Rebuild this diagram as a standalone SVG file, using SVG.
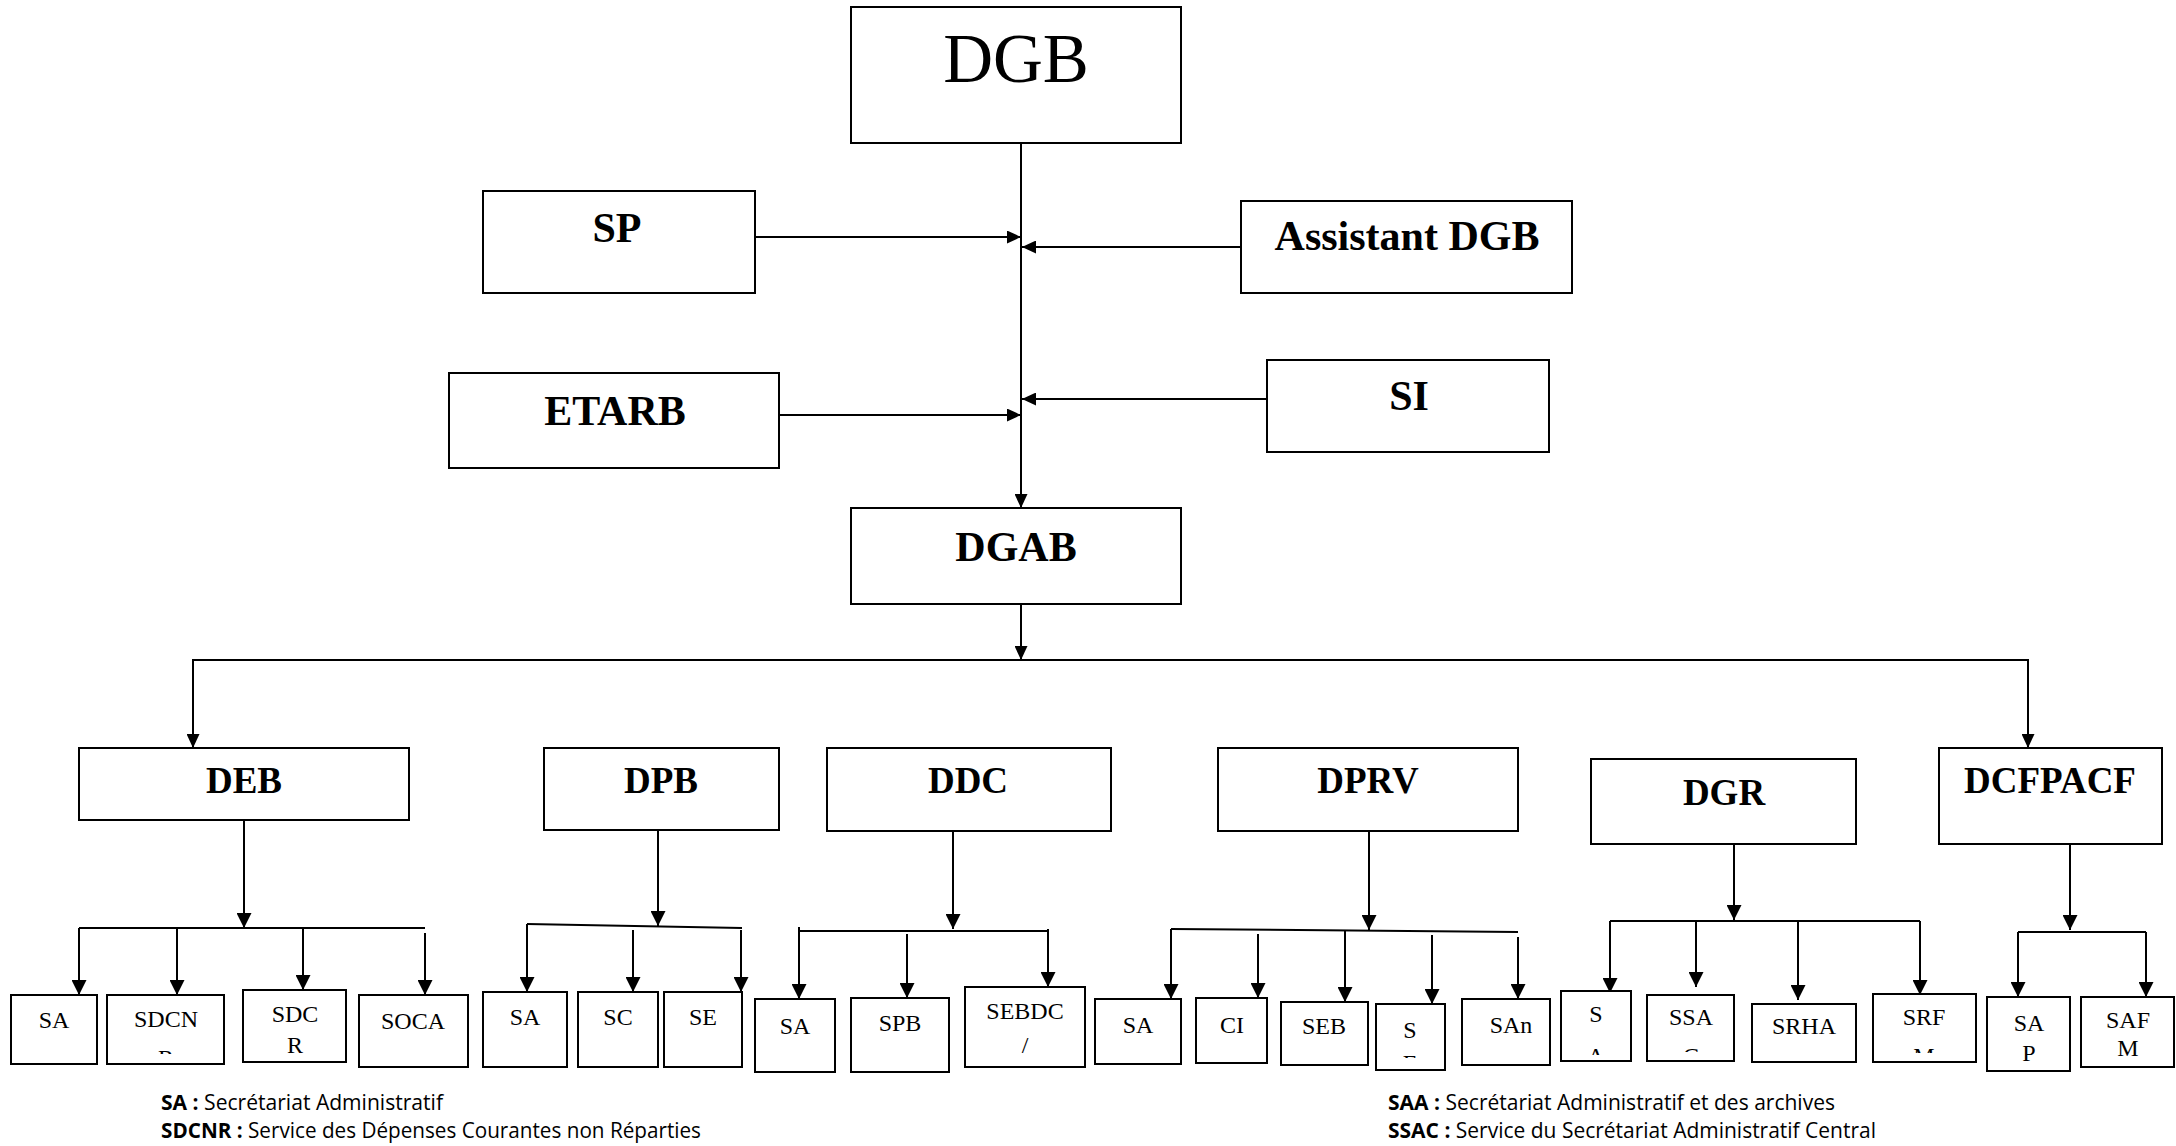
<svg xmlns="http://www.w3.org/2000/svg" width="2176" height="1146" viewBox="0 0 2176 1146">
<style>
.box{fill:#fff;stroke:#000;stroke-width:2}
.big{font-family:"Liberation Serif",serif;font-weight:bold;text-anchor:middle;fill:#000}
.sm{font-family:"Liberation Serif",serif;font-size:24px;text-anchor:middle;fill:#000}
.ln{stroke:#000;stroke-width:2;fill:none}
.leg{font-family:"Open Sans","Liberation Sans",sans-serif;font-size:21px;fill:#000}
</style>
<defs>
<marker id="ah" markerWidth="15" markerHeight="15" refX="15" refY="7.5" orient="auto" markerUnits="userSpaceOnUse"><path d="M0,0 L15,7.5 L0,15 z" fill="#000"/></marker>
<marker id="as" markerWidth="14" markerHeight="13" refX="14" refY="6.5" orient="auto" markerUnits="userSpaceOnUse"><path d="M0,0 L14,6.5 L0,13 z" fill="#000"/></marker>
<clipPath id="c1"><rect x="107" y="995" width="117" height="59"/></clipPath>
<clipPath id="c2"><rect x="1095" y="999" width="86" height="54"/></clipPath>
<clipPath id="c3"><rect x="1376" y="1004" width="69" height="54"/></clipPath>
<clipPath id="c4"><rect x="1561" y="991" width="70" height="64"/></clipPath>
<clipPath id="c5"><rect x="1647" y="995" width="87" height="57"/></clipPath>
<clipPath id="c6"><rect x="1873" y="994" width="103" height="59"/></clipPath>
</defs>

<g id="connectors">
<line class="ln" x1="1021" y1="143" x2="1021" y2="508" marker-end="url(#as)"/>
<line class="ln" x1="755" y1="237" x2="1021" y2="237" marker-end="url(#as)"/>
<line class="ln" x1="1241" y1="247" x2="1022" y2="247" marker-end="url(#as)"/>
<line class="ln" x1="779" y1="415" x2="1021" y2="415" marker-end="url(#as)"/>
<line class="ln" x1="1267" y1="399" x2="1022" y2="399" marker-end="url(#as)"/>
<line class="ln" x1="1021" y1="604" x2="1021" y2="660" marker-end="url(#as)"/>
<polyline class="ln" points="193,748 193,660 2028,660 2028,748"/>
<line class="ln" x1="193" y1="700" x2="193" y2="748" marker-end="url(#as)"/>
<line class="ln" x1="2028" y1="700" x2="2028" y2="748" marker-end="url(#as)"/>

<line class="ln" x1="244" y1="820" x2="244" y2="928" marker-end="url(#ah)"/>
<line class="ln" x1="79" y1="928" x2="425" y2="928"/>
<line class="ln" x1="79" y1="928" x2="79" y2="995" marker-end="url(#ah)"/>
<line class="ln" x1="177" y1="928" x2="177" y2="995" marker-end="url(#ah)"/>
<line class="ln" x1="303" y1="928" x2="303" y2="990" marker-end="url(#ah)"/>
<line class="ln" x1="425" y1="933" x2="425" y2="995" marker-end="url(#ah)"/>

<line class="ln" x1="658" y1="830" x2="658" y2="926" marker-end="url(#ah)"/>
<line class="ln" x1="527" y1="924" x2="742" y2="928"/>
<line class="ln" x1="527" y1="924" x2="527" y2="992" marker-end="url(#ah)"/>
<line class="ln" x1="633" y1="930" x2="633" y2="992" marker-end="url(#ah)"/>
<line class="ln" x1="741" y1="930" x2="741" y2="992" marker-end="url(#ah)"/>

<line class="ln" x1="953" y1="831" x2="953" y2="929" marker-end="url(#ah)"/>
<line class="ln" x1="799" y1="931" x2="1048" y2="931"/>
<line class="ln" x1="799" y1="927" x2="799" y2="999" marker-end="url(#ah)"/>
<line class="ln" x1="907" y1="934" x2="907" y2="998" marker-end="url(#ah)"/>
<line class="ln" x1="1048" y1="929" x2="1048" y2="987" marker-end="url(#ah)"/>

<line class="ln" x1="1369" y1="831" x2="1369" y2="930" marker-end="url(#ah)"/>
<line class="ln" x1="1171" y1="929" x2="1518" y2="932"/>
<line class="ln" x1="1171" y1="929" x2="1171" y2="999" marker-end="url(#ah)"/>
<line class="ln" x1="1258" y1="934" x2="1258" y2="998" marker-end="url(#ah)"/>
<line class="ln" x1="1345" y1="931" x2="1345" y2="1002" marker-end="url(#ah)"/>
<line class="ln" x1="1432" y1="935" x2="1432" y2="1004" marker-end="url(#ah)"/>
<line class="ln" x1="1518" y1="937" x2="1518" y2="999" marker-end="url(#ah)"/>

<line class="ln" x1="1734" y1="844" x2="1734" y2="920" marker-end="url(#ah)"/>
<line class="ln" x1="1610" y1="921" x2="1920" y2="921"/>
<line class="ln" x1="1610" y1="921" x2="1610" y2="993" marker-end="url(#ah)"/>
<line class="ln" x1="1696" y1="921" x2="1696" y2="987" marker-end="url(#ah)"/>
<line class="ln" x1="1798" y1="921" x2="1798" y2="1000" marker-end="url(#ah)"/>
<line class="ln" x1="1920" y1="921" x2="1920" y2="995" marker-end="url(#ah)"/>

<line class="ln" x1="2070" y1="844" x2="2070" y2="930" marker-end="url(#ah)"/>
<line class="ln" x1="2018" y1="932" x2="2146" y2="932"/>
<line class="ln" x1="2018" y1="932" x2="2018" y2="997" marker-end="url(#ah)"/>
<line class="ln" x1="2146" y1="932" x2="2146" y2="997" marker-end="url(#ah)"/>
</g>

<g id="DGB"><rect class="box" x="851" y="7" width="330" height="136"/><text x="1016" y="82" font-family="Liberation Serif, serif" font-size="69" text-anchor="middle">DGB</text></g>
<g id="SP"><rect class="box" x="483" y="191" width="272" height="102"/><text class="big" x="617" y="242" font-size="42">SP</text></g>
<g id="AssistantDGB"><rect class="box" x="1241" y="201" width="331" height="92"/><text class="big" x="1407" y="250" font-size="42">Assistant DGB</text></g>
<g id="ETARB"><rect class="box" x="449" y="373" width="330" height="95"/><text class="big" x="615" y="425" font-size="42">ETARB</text></g>
<g id="SI"><rect class="box" x="1267" y="360" width="282" height="92"/><text class="big" x="1409" y="410" font-size="42">SI</text></g>
<g id="DGAB"><rect class="box" x="851" y="508" width="330" height="96"/><text class="big" x="1016" y="561" font-size="42">DGAB</text></g>

<g id="DEB"><rect class="box" x="79" y="748" width="330" height="72"/><text class="big" x="244" y="793" font-size="37">DEB</text></g>
<g id="DPB"><rect class="box" x="544" y="748" width="235" height="82"/><text class="big" x="661" y="793" font-size="37">DPB</text></g>
<g id="DDC"><rect class="box" x="827" y="748" width="284" height="83"/><text class="big" x="968" y="793" font-size="37">DDC</text></g>
<g id="DPRV"><rect class="box" x="1218" y="748" width="300" height="83"/><text class="big" x="1368" y="793" font-size="37">DPRV</text></g>
<g id="DGR"><rect class="box" x="1591" y="759" width="265" height="85"/><text class="big" x="1724" y="805" font-size="37">DGR</text></g>
<g id="DCFPACF"><rect class="box" x="1939" y="748" width="223" height="96"/><text class="big" x="2050" y="793" font-size="37">DCFPACF</text></g>

<g id="DEB_SA"><rect class="box" x="11" y="995" width="86" height="69"/><text class="sm" x="54" y="1028">SA</text></g>
<g id="DEB_SDCNR"><rect class="box" x="107" y="995" width="117" height="69"/><g clip-path="url(#c1)"><text class="sm" x="166" y="1027">SDCN</text><text class="sm" x="166" y="1066">R</text></g></g>
<g id="DEB_SDCR"><rect class="box" x="243" y="990" width="103" height="72"/><text class="sm" x="295" y="1022">SDC</text><text class="sm" x="295" y="1053">R</text></g>
<g id="DEB_SOCA"><rect class="box" x="359" y="995" width="109" height="72"/><text class="sm" x="413" y="1029">SOCA</text></g>

<g id="DPB_SA"><rect class="box" x="483" y="992" width="84" height="75"/><text class="sm" x="525" y="1025">SA</text></g>
<g id="DPB_SC"><rect class="box" x="578" y="992" width="80" height="75"/><text class="sm" x="618" y="1025">SC</text></g>
<g id="DPB_SE"><rect class="box" x="664" y="992" width="78" height="75"/><text class="sm" x="703" y="1025">SE</text></g>

<g id="DDC_SA"><rect class="box" x="755" y="999" width="80" height="73"/><text class="sm" x="795" y="1034">SA</text></g>
<g id="DDC_SPB"><rect class="box" x="851" y="998" width="98" height="74"/><text class="sm" x="900" y="1031">SPB</text></g>
<g id="DDC_SEBDC"><rect class="box" x="965" y="987" width="120" height="80"/><text class="sm" x="1025" y="1019">SEBDC</text><text class="sm" x="1025" y="1053">/</text></g>

<g id="DPRV_SA"><rect class="box" x="1095" y="999" width="86" height="65"/><g clip-path="url(#c2)"><text class="sm" x="1138" y="1033">SA</text><text class="sm" x="1138" y="1068">A</text></g></g>
<g id="DPRV_CI"><rect class="box" x="1196" y="998" width="71" height="65"/><text class="sm" x="1232" y="1033" font-size="27">CI</text></g>
<g id="DPRV_SEB"><rect class="box" x="1281" y="1002" width="87" height="63"/><text class="sm" x="1324" y="1034">SEB</text></g>
<g id="DPRV_SE"><rect class="box" x="1376" y="1004" width="69" height="66"/><g clip-path="url(#c3)"><text class="sm" x="1410" y="1038">S</text><text class="sm" x="1410" y="1071">E</text></g></g>
<g id="DPRV_SAn"><rect class="box" x="1462" y="999" width="88" height="66"/><text class="sm" x="1511" y="1033" font-size="26">SAn</text></g>

<g id="DGR_SA"><rect class="box" x="1561" y="991" width="70" height="70"/><g clip-path="url(#c4)"><text class="sm" x="1596" y="1022">S</text><text class="sm" x="1596" y="1064">A</text></g></g>
<g id="DGR_SSAC"><rect class="box" x="1647" y="995" width="87" height="66"/><g clip-path="url(#c5)"><text class="sm" x="1691" y="1025">SSA</text><text class="sm" x="1691" y="1064">C</text></g></g>
<g id="DGR_SRHA"><rect class="box" x="1752" y="1004" width="104" height="58"/><text class="sm" x="1804" y="1034">SRHA</text></g>
<g id="DGR_SRFM"><rect class="box" x="1873" y="994" width="103" height="68"/><g clip-path="url(#c6)"><text class="sm" x="1924" y="1025">SRF</text><text class="sm" x="1924" y="1064">M</text></g></g>

<g id="DCF_SAP"><rect class="box" x="1987" y="997" width="83" height="74"/><text class="sm" x="2029" y="1031">SA</text><text class="sm" x="2029" y="1061">P</text></g>
<g id="DCF_SAFM"><rect class="box" x="2081" y="997" width="93" height="70"/><text class="sm" x="2128" y="1028">SAF</text><text class="sm" x="2128" y="1056">M</text></g>

<g id="legend">
<text class="leg" x="161" y="1110" textLength="282" lengthAdjust="spacingAndGlyphs"><tspan font-weight="bold">SA :</tspan> Secrétariat Administratif</text>
<text class="leg" x="161" y="1138" textLength="540" lengthAdjust="spacingAndGlyphs"><tspan font-weight="bold">SDCNR :</tspan> Service des Dépenses Courantes non Réparties</text>
<text class="leg" x="1388" y="1110" textLength="447" lengthAdjust="spacingAndGlyphs"><tspan font-weight="bold">SAA :</tspan> Secrétariat Administratif et des archives</text>
<text class="leg" x="1388" y="1138" textLength="488" lengthAdjust="spacingAndGlyphs"><tspan font-weight="bold">SSAC :</tspan> Service du Secrétariat Administratif Central</text>
</g>
</svg>
